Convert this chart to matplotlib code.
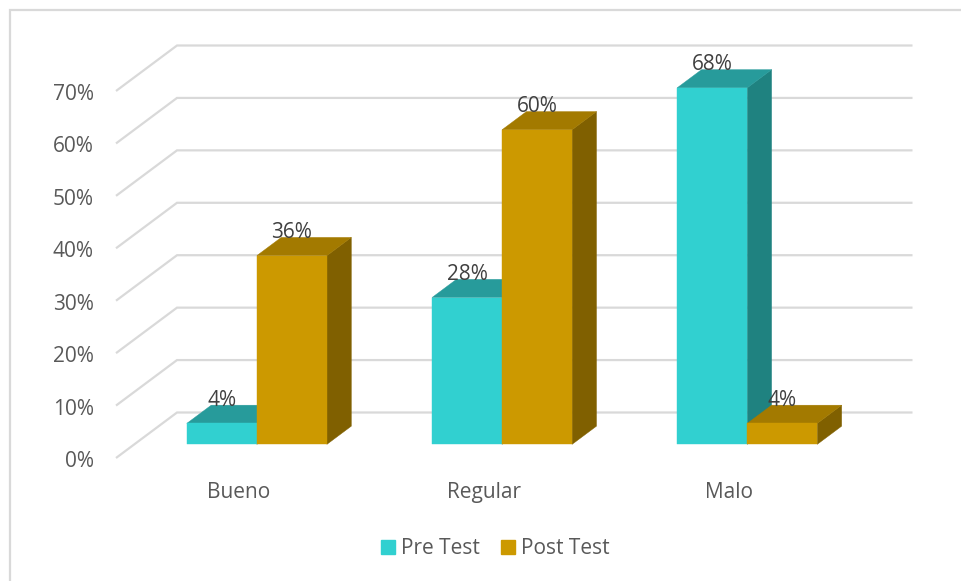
import matplotlib
matplotlib.use("Agg")
import matplotlib.pyplot as plt
from matplotlib.lines import Line2D
from matplotlib.patches import Polygon, Rectangle
from matplotlib.transforms import Affine2D, IdentityTransform
from matplotlib.ticker import PercentFormatter

categories = ["Bueno", "Regular", "Malo"]
pre_test = [4, 28, 68]
post_test = [36, 60, 4]
series_names = ["Pre Test", "Post Test"]
y_ticks = [0, 10, 20, 30, 40, 50, 60, 70]

W, H = 961, 581
DEPTH_X, DEPTH_Y = 61, 45.5    # floor depth on screen, pixels
D_FRONT, D_BACK = 0.30, 0.70   # where the bars sit within the depth
BAR_W = 70 / 245.0
GRID = "#d9d9d9"
FACES = [("#31d0d0", "#279b9b", "#1f8280"), ("#cc9900", "#a37a00", "#806000")]

plt.rcParams["font.family"] = ["Open Sans", "DejaVu Sans"]
fig = plt.figure(figsize=(W / 100, H / 100), dpi=100)
ax = fig.add_axes([116 / W, 123 / H, 735.5 / W, 367 / H])
ax.set_xlim(-0.5, 2.5)
ax.set_ylim(0, 70)
for s in ax.spines.values():
    s.set_visible(False)
ax.patch.set_visible(False)


def at_depth(d):
    return ax.transData + Affine2D().translate(DEPTH_X * d, DEPTH_Y * d)


def proj(x, y, d):
    px, py = ax.transData.transform((x, y))
    return (px + DEPTH_X * d, py + DEPTH_Y * d)


def poly(points, color, z):
    ax.add_patch(Polygon([proj(*p) for p in points], closed=True, facecolor=color,
                         edgecolor=color, linewidth=0.3, transform=IdentityTransform(),
                         zorder=z, clip_on=False))


# frame: only the top and left edges fall inside the picture
fig.add_artist(Line2D([10 / W, 10 / W, 1], [0, 1 - 10 / H, 1 - 10 / H], transform=fig.transFigure,
                      color=GRID, linewidth=1.6, solid_joinstyle="miter"))

# side wall and back wall gridlines
for t in y_ticks:
    xs0, ys0 = proj(-0.5, t, 0)
    xs1, ys1 = proj(-0.5, t, 1)
    xs2, ys2 = proj(2.5, t, 1)
    ax.plot([xs0, xs1, xs2], [ys0, ys1, ys2], color=GRID, lw=1.6, transform=IdentityTransform(),
            solid_joinstyle="miter", solid_capstyle="butt", clip_on=False, zorder=1)

# bars
z = 2
for i in range(len(categories)):
    for s, (vals, (front, top, side)) in enumerate(zip((pre_test, post_test), FACES)):
        x0 = i + (s - 1) * BAR_W
        x1 = x0 + BAR_W
        v = vals[i]
        poly([(x1, 0, D_FRONT), (x1, 0, D_BACK), (x1, v, D_BACK), (x1, v, D_FRONT)], side, z)
        poly([(x0, v, D_FRONT), (x0, v, D_BACK), (x1, v, D_BACK), (x1, v, D_FRONT)], top, z)
        ax.bar([i + (s - 0.5) * BAR_W], [v], width=BAR_W, color=front, transform=at_depth(D_FRONT),
               zorder=z, clip_on=False, edgecolor=front, linewidth=0.3)
        z += 1

# data labels
for s, vals in enumerate((pre_test, post_test)):
    for i, v in enumerate(vals):
        ax.annotate(f"{v}%", xy=(i + (s - 0.5) * BAR_W, v), xycoords=at_depth(D_FRONT),
                    xytext=(0, 16.5), textcoords="offset points",
                    ha="center", va="center", fontsize=15, color="#404040", zorder=20,
                    annotation_clip=False)

ax.set_yticks(y_ticks)
ax.yaxis.set_major_formatter(PercentFormatter(decimals=0))
ax.set_xticks(range(len(categories)), categories)
ax.tick_params(axis="both", length=0, labelsize=15, labelcolor="#595959")
ax.tick_params(axis="y", pad=16)
ax.tick_params(axis="x", pad=17.5)
for tick in ax.yaxis.get_major_ticks():
    tick.label1.set_transform(tick.label1.get_transform() + Affine2D().translate(0, -1))

handles = [Rectangle((0, 0), 1, 1, color=f[0]) for f in FACES]
fig.legend(handles, series_names, loc="center", bbox_to_anchor=(495 / W, 1 - 549 / H), ncol=2,
           frameon=False, fontsize=15, labelcolor="#595959", handlelength=0.67, handleheight=0.67,
           handletextpad=0.3, columnspacing=1.0, borderpad=0, borderaxespad=0)

fig.savefig("out.png", dpi=100)
